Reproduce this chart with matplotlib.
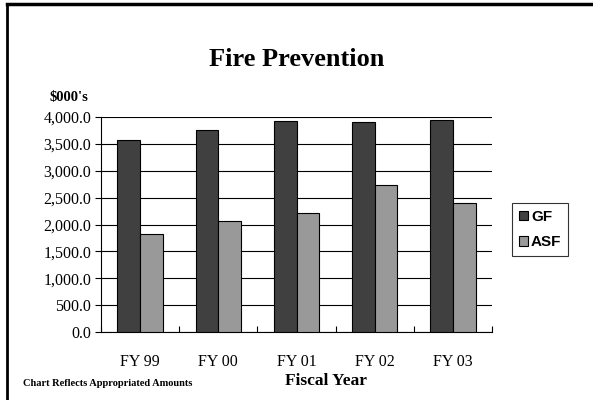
import matplotlib
matplotlib.use('Agg')
import matplotlib.pyplot as plt
import numpy as np
from matplotlib.lines import Line2D
from matplotlib.ticker import FuncFormatter, FixedLocator

years = ['FY 99', 'FY 00', 'FY 01', 'FY 02', 'FY 03']
gf = [3575, 3750, 3925, 3906, 3950]
asf = [1831, 2056, 2219, 2744, 2394]

serif = ['Liberation Serif', 'DejaVu Serif']
sans = ['Liberation Sans', 'DejaVu Sans']

fig = plt.figure(figsize=(5.93, 4.0), dpi=100)
W, H = 593.0, 400.0
# plot area in pixels: x 101..492, y 117..332
ax = fig.add_axes([101 / W, 1 - 332 / H, (492 - 101) / W, (332 - 117) / H])

x = np.arange(len(years))
w = 0.29
ax.bar(x - w / 2, gf, w, color='#404040', edgecolor='black', linewidth=0.8,
       label='GF', zorder=3)
ax.bar(x + w / 2, asf, w, color='#999999', edgecolor='black', linewidth=0.8,
       label='ASF', zorder=3)

ax.set_xlim(-0.5, len(years) - 0.5)
ax.set_ylim(0, 4000)
ax.set_yticks(np.arange(0, 4001, 500))
ax.yaxis.set_major_formatter(FuncFormatter(lambda v, p: '{:,.1f}'.format(v)))
ax.grid(axis='y', color='black', linewidth=0.8, zorder=0)

ax.set_xticks(x)
ax.set_xticklabels(years, fontfamily=serif, fontsize=11.5)
ax.tick_params(axis='x', length=0, pad=16)
ax.xaxis.set_minor_locator(FixedLocator(np.arange(-0.5, len(years), 1.0)))
ax.tick_params(axis='x', which='minor', direction='in', length=4, width=0.8)
ax.tick_params(axis='y', direction='out', length=4, width=0.8, pad=3)
for lab in ax.get_yticklabels():
    lab.set_fontfamily(serif)
    lab.set_fontsize(11.5)

for s in ['top', 'right']:
    ax.spines[s].set_visible(False)
for s in ['left', 'bottom']:
    ax.spines[s].set_linewidth(0.8)

fig.text(296.5 / W, 1 - 59 / H, 'Fire Prevention', fontfamily=serif,
         fontweight='bold', fontsize=19, ha='center', va='center')
fig.text(68.5 / W, 1 - 97 / H, "$000's", fontfamily=serif, fontweight='bold',
         fontsize=10.5, ha='center', va='center')
fig.text(326 / W, 1 - 381 / H, 'Fiscal Year', fontfamily=serif,
         fontweight='bold', fontsize=12.5, ha='center', va='center')
fig.text(23 / W, 1 - 383 / H, 'Chart Reflects Appropriated Amounts',
         fontfamily=serif, fontweight='bold', fontsize=7.5, ha='left',
         va='center')

leg = fig.legend(loc='upper left', bbox_to_anchor=(512 / W, 1 - 203 / H),
                 prop={'family': sans, 'weight': 'bold', 'size': 11},
                 frameon=True, fancybox=False, edgecolor='black',
                 handlelength=0.6, handleheight=0.6, handletextpad=0.2,
                 borderpad=0.45, labelspacing=0.75, borderaxespad=0)
leg.get_frame().set_linewidth(0.8)

# page frame: left and top edges
fig.add_artist(Line2D([7 / W, 7 / W], [0, 1 - 4 / H], color='black',
                      linewidth=2, transform=fig.transFigure))
fig.add_artist(Line2D([7 / W, 1], [1 - 4 / H, 1 - 4 / H], color='black',
                      linewidth=2.5, transform=fig.transFigure))

fig.savefig('out.png', dpi=100)
